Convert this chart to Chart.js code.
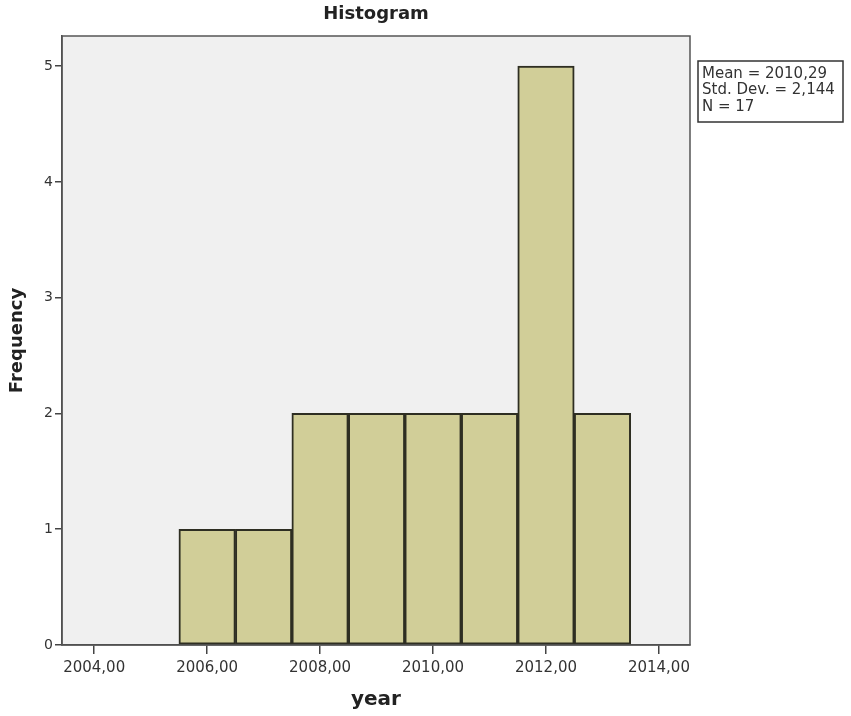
<!DOCTYPE html>
<html>
<head>
<meta charset="utf-8">
<title>Histogram</title>
<script src="https://cdn.jsdelivr.net/npm/chart.js@4.4.1/dist/chart.umd.min.js"></script>
<style>
    html, body { margin: 0; padding: 0; background: #ffffff; }
    #wrap { width: 851px; height: 716px; }
</style>
</head>
<body>
<div id="wrap"><canvas id="hist"></canvas></div>
<script>
// Bin centres (year) and counts
const binCenters = [2006, 2007, 2008, 2009, 2010, 2011, 2012, 2013];
const frequencies = [1, 1, 2, 2, 2, 2, 5, 2];

// Axis ticks
const xTickValues = [2004, 2006, 2008, 2010, 2012, 2014];
const yTickValues = [0, 1, 2, 3, 4, 5];

// Summary box text
const statsLines = ['Mean = 2010,29', 'Std. Dev. = 2,144', 'N = 17'];

const fontFamily = '"DejaVu Sans", Verdana, sans-serif';

// Plot background, frame, title and summary box
const decorations = {
    id: 'decorations',
    beforeDraw(chart) {
        const { ctx, chartArea: a } = chart;
        ctx.save();
        ctx.fillStyle = '#f0f0f0';
        ctx.fillRect(a.left, a.top, a.right - a.left, a.bottom - a.top);
        ctx.restore();
    },
    afterDraw(chart) {
        const { ctx, chartArea: a } = chart;
        ctx.save();
        // frame around plot
        ctx.strokeStyle = '#555555';
        ctx.lineWidth = 1.5;
        ctx.strokeRect(a.left, a.top, a.right - a.left, a.bottom - a.top);

        // title
        ctx.fillStyle = '#222222';
        ctx.font = 'bold 18px ' + fontFamily;
        ctx.textAlign = 'center';
        ctx.textBaseline = 'middle';
        ctx.fillText('Histogram', (a.left + a.right) / 2, 14);

        // summary box
        const bx = a.right + 8, by = 61, bw = 145, bh = 61;
        ctx.fillStyle = '#ffffff';
        ctx.fillRect(bx, by, bw, bh);
        ctx.strokeStyle = '#333333';
        ctx.lineWidth = 1.5;
        ctx.strokeRect(bx, by, bw, bh);
        ctx.fillStyle = '#333333';
        ctx.font = '15px ' + fontFamily;
        ctx.textAlign = 'left';
        ctx.textBaseline = 'middle';
        statsLines.forEach((line, i) => {
            ctx.fillText(line, bx + 4, by + 13 + i * 16.5);
        });
        ctx.restore();
    }
};

const ctx = document.getElementById('hist').getContext('2d');
new Chart(ctx, {
    type: 'bar',
    data: {
        datasets: [{
            label: 'Frequency',
            data: binCenters.map((x, i) => ({ x: x, y: frequencies[i] })),
            backgroundColor: '#d1ce98',
            borderColor: '#2e2e22',
            borderWidth: 2,
            borderSkipped: false,
            barPercentage: 1.0,
            categoryPercentage: 1.0
        }]
    },
    options: {
        responsive: true,
        maintainAspectRatio: false,
        animation: false,
        layout: {
            padding: { top: 36, right: 161, left: 0, bottom: 0 }
        },
        plugins: {
            legend: { display: false },
            title: { display: false },
            tooltip: { enabled: false }
        },
        scales: {
            x: {
                type: 'linear',
                offset: false,
                min: 2003.43,
                max: 2014.55,
                afterBuildTicks: scale => {
                    scale.ticks = xTickValues.map(v => ({ value: v }));
                },
                afterFit: scale => { scale.height = 71; },
                ticks: {
                    color: '#333333',
                    font: { family: fontFamily, size: 15 },
                    padding: 5,
                    maxRotation: 0,
                    callback: v => v.toFixed(2).replace('.', ',')
                },
                grid: {
                    offset: false,
                    drawOnChartArea: false,
                    drawTicks: true,
                    tickLength: 9,
                    color: '#444444',
                    lineWidth: 1.5
                },
                border: { display: true, color: '#444444', width: 1.5 },
                title: {
                    display: true,
                    text: 'year',
                    color: '#222222',
                    font: { family: fontFamily, size: 20, weight: 'bold' },
                    padding: { top: 4, bottom: 4 }
                }
            },
            y: {
                min: 0,
                max: 5.26,
                afterBuildTicks: scale => {
                    scale.ticks = yTickValues.map(v => ({ value: v }));
                },
                afterFit: scale => { scale.width = 62; },
                ticks: {
                    color: '#333333',
                    font: { family: fontFamily, size: 14 },
                    padding: 2
                },
                grid: {
                    drawOnChartArea: false,
                    drawTicks: true,
                    tickLength: 7,
                    color: '#444444',
                    lineWidth: 1.5
                },
                border: { display: true, color: '#444444', width: 1.5 },
                title: {
                    display: true,
                    text: 'Frequency',
                    color: '#222222',
                    font: { family: fontFamily, size: 18, weight: 'bold' },
                    padding: { top: 7, bottom: 4 }
                }
            }
        }
    },
    plugins: [decorations]
});
</script>
</body>
</html>
